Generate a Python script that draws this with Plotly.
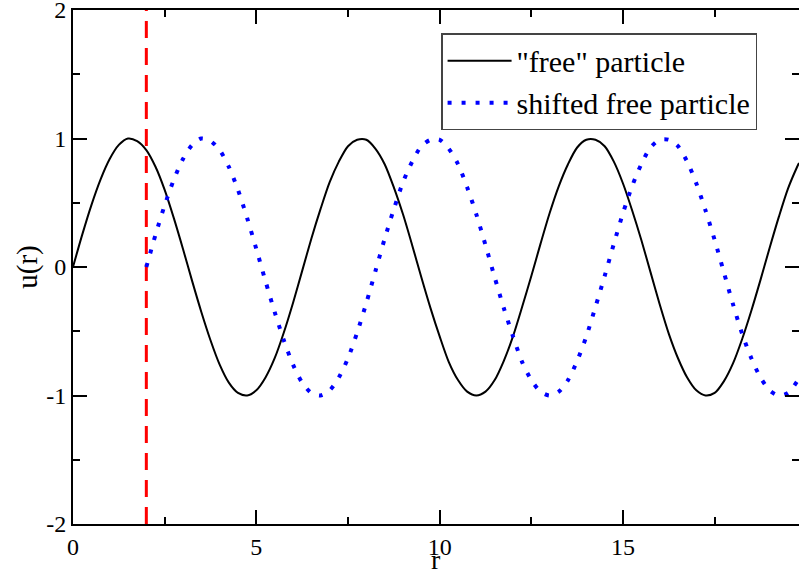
import plotly.graph_objects as go

# "free" particle u(r)
r_free = [0.00, 0.25, 0.50, 0.75, 1.00, 1.25, 1.50, 1.75, 2.00, 2.25, 2.50, 2.75, 3.00,
          3.25, 3.50, 3.75, 4.00, 4.25, 4.50, 4.75, 5.00, 5.25, 5.50, 5.75, 6.00, 6.25,
          6.50, 6.75, 7.00, 7.25, 7.50, 7.75, 8.00, 8.25, 8.50, 8.75, 9.00, 9.25, 9.50,
          9.75, 10.00, 10.25, 10.50, 10.75, 11.00, 11.25, 11.50, 11.75, 12.00, 12.25,
          12.50, 12.75, 13.00, 13.25, 13.50, 13.75, 14.00, 14.25, 14.50, 14.75, 15.00,
          15.25, 15.50, 15.75, 16.00, 16.25, 16.50, 16.75, 17.00, 17.25, 17.50, 17.75,
          18.00, 18.25, 18.50, 18.75, 19.00, 19.25, 19.50, 19.75, 19.80]
u_free = [0.00, 0.25, 0.48, 0.68, 0.84, 0.95, 1.00, 0.98, 0.91, 0.78, 0.60, 0.38, 0.14,
          -0.11, -0.35, -0.57, -0.76, -0.90, -0.98, -1.00, -0.96, -0.86, -0.71, -0.51,
          -0.28, -0.03, 0.22, 0.45, 0.66, 0.82, 0.94, 0.99, 0.99, 0.92, 0.80, 0.62, 0.41,
          0.17, -0.08, -0.32, -0.54, -0.74, -0.88, -0.97, -1.00, -0.97, -0.88, -0.73,
          -0.54, -0.31, -0.07, 0.18, 0.42, 0.63, 0.80, 0.93, 0.99, 0.99, 0.94, 0.82, 0.65,
          0.44, 0.21, -0.04, -0.29, -0.52, -0.71, -0.86, -0.96, -1.00, -0.98, -0.89, -0.75,
          -0.56, -0.34, -0.10, 0.15, 0.39, 0.61, 0.78, 0.81]

# shifted free particle
r_shift = [2.00, 2.25, 2.50, 2.75, 3.00, 3.25, 3.50, 3.75, 4.00, 4.25, 4.50, 4.75, 5.00,
           5.25, 5.50, 5.75, 6.00, 6.25, 6.50, 6.75, 7.00, 7.25, 7.50, 7.75, 8.00, 8.25,
           8.50, 8.75, 9.00, 9.25, 9.50, 9.75, 10.00, 10.25, 10.50, 10.75, 11.00, 11.25,
           11.50, 11.75, 12.00, 12.25, 12.50, 12.75, 13.00, 13.25, 13.50, 13.75, 14.00,
           14.25, 14.50, 14.75, 15.00, 15.25, 15.50, 15.75, 16.00, 16.25, 16.50, 16.75,
           17.00, 17.25, 17.50, 17.75, 18.00, 18.25, 18.50, 18.75, 19.00, 19.25, 19.50,
           19.75, 19.80]
u_shift = [0.00, 0.25, 0.48, 0.68, 0.84, 0.95, 1.00, 0.98, 0.91, 0.78, 0.60, 0.38, 0.14,
           -0.11, -0.35, -0.57, -0.76, -0.90, -0.98, -1.00, -0.96, -0.86, -0.71, -0.51,
           -0.28, -0.03, 0.22, 0.45, 0.66, 0.82, 0.94, 0.99, 0.99, 0.92, 0.80, 0.62, 0.41,
           0.17, -0.08, -0.32, -0.54, -0.74, -0.88, -0.97, -1.00, -0.97, -0.88, -0.73,
           -0.54, -0.31, -0.07, 0.18, 0.42, 0.63, 0.80, 0.93, 0.99, 0.99, 0.94, 0.82, 0.65,
           0.44, 0.21, -0.04, -0.29, -0.52, -0.71, -0.86, -0.96, -1.00, -0.98, -0.89,
           -0.87]

# vertical marker at r = 2
r_mark = [2, 2]
u_mark = [-2, 2]

# tick labels
x_tickvals = [0, 5, 10, 15]
x_ticktext = ["0", "5", "10", "15"]
y_tickvals = [-2, -1, 0, 1, 2]
y_ticktext = ["-2", "-1", "0", "1", "2"]

x_title = "r"
y_title = "u(r)"

font_family = "Liberation Serif"

fig = go.Figure()
fig.add_trace(go.Scatter(x=r_mark, y=u_mark, mode="lines", showlegend=False,
                         line=dict(color="#ff0000", width=3, dash="17px,10px")))
fig.add_trace(go.Scatter(x=r_free, y=u_free, mode="lines", name='"free" particle',
                         line=dict(color="black", width=2, shape="spline", smoothing=0.8)))
fig.add_trace(go.Scatter(x=r_shift, y=u_shift, mode="lines", name="shifted free particle",
                         line=dict(color="#0000ff", width=4, dash="4px,10px",
                                   shape="spline", smoothing=0.8)))

axis_common = dict(showgrid=False, zeroline=False, showline=True, linecolor="black",
                   linewidth=2, mirror="ticks", ticks="inside", ticklen=14, tickwidth=1.5,
                   tickcolor="black", automargin=False, ticklabeloverflow="allow",
                   tickfont=dict(family=font_family, size=24, color="black"))

fig.update_layout(
    width=799, height=572,
    margin=dict(l=73, r=0, t=10, b=48),
    paper_bgcolor="white", plot_bgcolor="white",
    font=dict(family=font_family, color="black"),
    xaxis=dict(range=[0, 19.8], tickmode="array", tickvals=x_tickvals, ticktext=x_ticktext,
               minor=dict(dtick=2.5, tick0=0, ticks="inside", ticklen=7, tickwidth=1.5,
                          tickcolor="black"),
               **axis_common),
    yaxis=dict(range=[-2, 2], tickmode="array", tickvals=y_tickvals, ticktext=y_ticktext,
               minor=dict(dtick=0.5, tick0=0, ticks="inside", ticklen=7, tickwidth=1.5,
                          tickcolor="black"),
               title=dict(text=y_title, font=dict(family=font_family, size=29), standoff=0),
               **axis_common),
    legend=dict(x=0.507, y=0.955, xanchor="left", yanchor="top",
                bgcolor="white", bordercolor="#444", borderwidth=1.5,
                itemwidth=64,
                font=dict(family=font_family, size=30, color="black"),
                tracegroupgap=0),
    annotations=[dict(text=x_title, xref="paper", yref="paper", x=0.5, y=-0.0934,
                      xanchor="center", yanchor="bottom", showarrow=False, yshift=-5,
                      font=dict(family=font_family, size=28, color="black"))],
)

fig.write_html("out.html")
